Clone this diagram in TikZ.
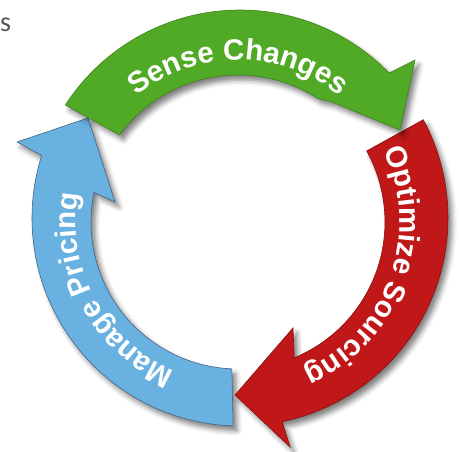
\documentclass[tikz,border=0pt]{standalone}
\usepackage{fontspec}
\setmainfont{Liberation Sans}
\newfontfamily\calib{Carlito}
\usetikzlibrary{decorations.text,shadows.blur,calc}
\definecolor{arrgreen}{RGB}{80,170,38}
\definecolor{greenedge}{RGB}{62,130,30}
\definecolor{arrred}{RGB}{192,24,24}
\definecolor{rededge}{RGB}{140,14,14}
\definecolor{arrblue}{RGB}{104,177,224}
\definecolor{blueedge}{RGB}{70,100,130}
\definecolor{stext}{RGB}{85,85,85}
\newcommand\labelfont{\bfseries\fontsize{29.5}{31}\selectfont}
\begin{document}
\begin{tikzpicture}[x=1pt,y=1pt]
\useasboundingbox (0,0) rectangle (459,452);
\tikzset{
  arrowshape/.style={line width=0.6pt, line join=miter,
    blur shadow={shadow xshift=4pt,shadow yshift=-5pt,shadow blur radius=5pt,shadow opacity=50}},
  arrowtext/.style={decorate, decoration={text along path, text align=center,
    text color=white, text={|\labelfont|#1}}}
}
\coordinate (Co) at (240,234);
\coordinate (Ci) at (238,230);
% blue arrow
\path[arrowshape, fill=arrblue, draw=blueedge]
  ($(Co)+(268.1:208)$) arc[start angle=268.1, end angle=162.5, radius=208]
  -- (17,310) -- (88,334) -- (115,250)
  -- ($(Ci)+(168.4:147)$) arc[start angle=168.4, end angle=267.6, radius=147] -- cycle;
% red arrow
\path[arrowshape, fill=arrred, draw=rededge]
  ($(Co)+(28.2:208)$) arc[start angle=28.2, end angle=-78.3, radius=208]
  -- (290,5) -- (235,57) -- (293,124)
  -- ($(Ci)+(-67.5:147)$) arc[start angle=-67.5, end angle=28.9, radius=147] -- cycle;
% green arrow
\path[arrowshape, fill=arrgreen, draw=greenedge]
  ($(Co)+(147.1:208)$) arc[start angle=147.1, end angle=44.2, radius=208]
  -- (415,392) -- (400,322) -- (332,350)
  -- ($(Ci)+(57.2:147)$) arc[start angle=57.2, end angle=143.7, radius=147] -- cycle;
% labels
\path[arrowtext={Sense Changes}] ($(Ci)+(150:162)$) arc[start angle=150, end angle=30, radius=162];
\path[arrowtext={Optimize Sourcing}] ($(Ci)+(40:162)$) arc[start angle=40, end angle=-80, radius=162];
\path[arrowtext={Manage Pricing}] ($(Ci)+(268.5:162)$) arc[start angle=268.5, end angle=148.5, radius=162];
\node[anchor=base west, inner sep=0pt, text=stext, font=\calib\fontsize{28}{30}\selectfont] (s) at (0,420) {s};
\end{tikzpicture}
\end{document}
